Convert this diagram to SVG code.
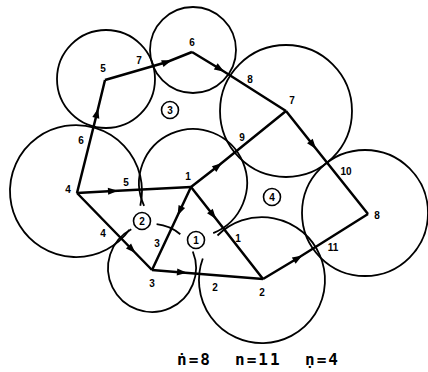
<svg xmlns="http://www.w3.org/2000/svg" width="428" height="372" viewBox="0 0 428 372">
<defs>
<marker id="arr" viewBox="-6 -5 12 10" refX="0" refY="0" markerWidth="12" markerHeight="10" markerUnits="userSpaceOnUse" orient="auto">
<path d="M5,0 L-5,-3.6 L-5,3.6 Z" fill="#000"/>
</marker>
<style>
.c{fill:none;stroke:#000;stroke-width:1.8}
.e{fill:none;stroke:#000;stroke-width:2.5;marker-mid:url(#arr)}
.t{font-family:"Liberation Sans",Arial,sans-serif;font-size:10px;font-weight:bold;fill:#000;text-anchor:middle;dominant-baseline:central}
.r{fill:#fff;stroke:#000;stroke-width:1.6}
.b{font-family:"DejaVu Sans Mono","Liberation Mono",monospace;font-size:16px;font-weight:bold;letter-spacing:2px;fill:#000}
</style>
</defs>
<rect width="428" height="372" fill="#fff"/>
<g id="circles">
<circle class="c" cx="106" cy="79" r="49"/>
<circle class="c" cx="193" cy="50" r="43"/>
<circle class="c" cx="286" cy="111" r="66"/>
<circle class="c" cx="365" cy="213" r="63"/>
<path class="c" d="M129.4,229.8 A66,66 0 1 1 140.3,205.8"/>
<path class="c" d="M144.1,205.8 A54,54 0 1 1 213.2,233.1"/>
<path class="c" d="M217.5,235.5 A63,63 0 1 1 202.8,258.5"/>
<path class="c" d="M192.8,251.5 A44,44 0 1 1 131.3,229.2"/>
<path class="c" d="M156.6,224.2 A44,44 0 0 1 180.3,234.3"/>
</g>
<g id="connectors">
<path class="e" d="M77,193 L97,113 L105,80"/>
<path class="e" d="M105,80 L167,62 L192,52"/>
<path class="e" d="M192,52 L220,69 L286,111"/>
<path class="e" d="M191,187 L218,166 L286,111"/>
<path class="e" d="M286,111 L313,145 L368,214"/>
<path class="e" d="M263,279 L298,258 L368,214"/>
<path class="e" d="M77,193 L113,191 L191,187"/>
<path class="e" d="M77,193 L132,249.5 L152,270"/>
<path class="e" d="M191,187 L179.7,211 L152,270"/>
<path class="e" d="M191,187 L213,215 L263,279"/>
<path class="e" d="M152,270 L182,272.4 L263,279"/>
</g>
<g id="edge-labels">
<text class="t" x="81" y="140">6</text>
<text class="t" x="139" y="60">7</text>
<text class="t" x="250" y="79">8</text>
<text class="t" x="242" y="137">9</text>
<text class="t" x="346" y="171">10</text>
<text class="t" x="333" y="247">11</text>
<text class="t" x="126" y="182">5</text>
<text class="t" x="103" y="233">4</text>
<text class="t" x="157" y="243">3</text>
<text class="t" x="238" y="238">1</text>
<text class="t" x="215" y="287">2</text>
</g>
<g id="node-1"><text class="t" x="188" y="176">1</text></g>
<g id="node-2"><text class="t" x="262" y="292">2</text></g>
<g id="node-3"><text class="t" x="152" y="283">3</text></g>
<g id="node-4"><text class="t" x="68" y="189">4</text></g>
<g id="node-5"><text class="t" x="103" y="68">5</text></g>
<g id="node-6"><text class="t" x="192" y="42">6</text></g>
<g id="node-7"><text class="t" x="292" y="100">7</text></g>
<g id="node-8"><text class="t" x="377" y="215">8</text></g>
<g id="region-1"><circle class="r" cx="196" cy="240" r="8.5"/><text class="t" x="196" y="240">1</text></g>
<g id="region-2"><circle class="r" cx="142" cy="221" r="8.5"/><text class="t" x="142" y="221">2</text></g>
<g id="region-3"><circle class="r" cx="170" cy="110" r="8.5"/><text class="t" x="170" y="110">3</text></g>
<g id="region-4"><circle class="r" cx="272" cy="197" r="8.5"/><text class="t" x="272" y="197">4</text></g>
<g id="caption">
<text class="b" x="177" y="365">ṅ=8</text>
<text class="b" x="235" y="365">n=11</text>
<text class="b" x="305" y="365">ṇ=4</text>
</g>
</svg>
